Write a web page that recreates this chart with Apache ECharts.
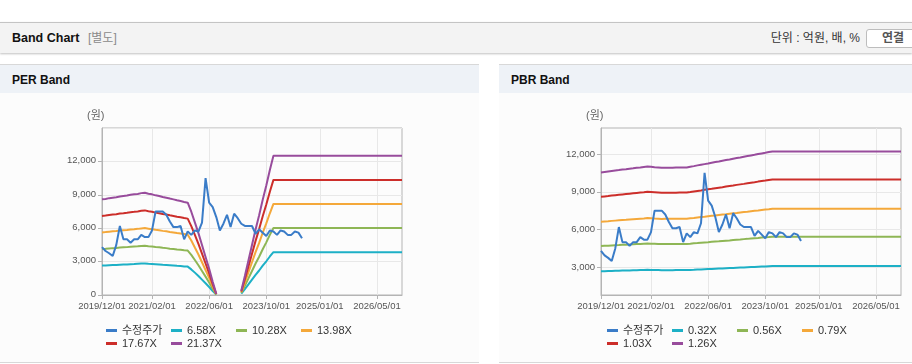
<!DOCTYPE html>
<html><head><meta charset="utf-8">
<script src="https://cdn.jsdelivr.net/npm/echarts@6/dist/echarts.min.js"></script>
<style>
html,body{margin:0;padding:0;background:#fff;width:912px;height:364px;overflow:hidden;font-family:"Liberation Sans","Noto Sans CJK KR",sans-serif;}
.abs{position:absolute;}
#top{left:0;top:22px;width:912px;height:30px;background:#f3f3f3;border-top:1px solid #c4c4c4;box-shadow:0 1px 2px rgba(0,0,0,0.25);}
#top .t{left:12px;top:0;line-height:30px;font-size:12.5px;font-weight:bold;color:#111;}
#top .s{left:88px;top:0;line-height:30px;font-size:12px;color:#8a8a8a;}
#top .u{right:52px;top:0;line-height:30px;font-size:12px;color:#333;}
#top .b{left:866px;top:6px;width:52px;height:17px;border:1px solid #bdbdbd;border-radius:3px;background:#fff;text-align:center;line-height:17px;font-size:12px;font-weight:bold;color:#555;}
.panel{top:64px;height:297px;border-top:1px solid #d8d8d8;border-bottom:1px solid #d8d8d8;background:#fcfcfc;}
.panel .h{left:0;top:0;right:0;height:28px;background:#eef2f7;}
.panel .h span{position:absolute;left:12px;top:0;line-height:30px;font-size:12px;font-weight:bold;color:#111;}
.chart{top:93px;height:268px;}
</style></head>
<body>
<div id="top" class="abs">
  <div class="abs t">Band Chart</div>
  <div class="abs s">[별도]</div>
  <div class="abs u">단위 : 억원, 배, %</div>
  <div class="abs b">연결</div>
</div>
<div class="abs panel" style="left:0;width:479px;"><div class="abs h"><span>PER Band</span></div></div>
<div class="abs panel" style="left:499px;width:413px;"><div class="abs h"><span>PBR Band</span></div></div>
<div id="per" class="abs chart" style="left:0;width:479px;"></div>
<div id="pbr" class="abs chart" style="left:499px;width:413px;"></div>
<script>
// ---- categories (monthly, 2019/12/01 .. 2026/12/01) ----
const months = ['2019/12/01'];
for (let y = 2020; y <= 2026; y++) for (let m = 1; m <= 12; m++) months.push(y + '/' + (m < 10 ? '0' + m : m) + '/01');
const xLabels = ['2019/12/01','2021/02/01','2022/06/01','2023/10/01','2025/01/01','2026/05/01'];
const yTicksPER = [0, 3000, 6000, 9000, 12000];
const yTicksPBR = [3000, 6000, 9000, 12000];

// ---- adjusted price (수정주가) ----
const price = [4300,3950,3750,3500,4500,6200,5000,5000,4700,5000,5000,5400,5200,5200,5800,7500,7500,7500,7200,6600,
  6100,6100,6200,5000,5700,5400,5800,5700,6500,10500,8300,7900,7000,5800,6400,7200,6100,7300,6900,6400,
  6200,6200,6200,5500,5900,5600,5300,5800,5700,5400,5800,5700,5400,5400,5700,5600,5100];

// ---- PER band ----
const perNames = ['6.58X','10.28X','13.98X','17.67X','21.37X'];
const per658 = [2650,2660,2680,2690,2700,2720,2740,2750,2770,2780,2800,2820,2830,2800,2780,2760,2740,2710,2690,2670,2650,2620,2600,2570,2550,
  2300,2010,1710,1380,1050,720,360,30, null,null,null,null,null,null,
  120,530,950,1380,1810,2200,2630,3030,3460,3850,
  3850,3850,3850,3850,3850,3850,3850,3850,3850,3850,3850,3850,3850,3850,3850,3850,3850,3850,
  3850,3850,3850,3850,3850,3850,3850,3850,3850,3850,3850,3850,3850,3850,3850,3850,3850,3850];
const per1028 = [4130,4150,4180,4210,4230,4260,4280,4300,4330,4350,4370,4400,4420,4380,4350,4310,4280,4240,4210,4160,4130,4090,4060,4020,3990,
  3600,3140,2670,2160,1650,1130,570,50, null,null,null,null,null,null,
  190,820,1490,2160,2830,3440,4110,4730,5400,6010,
  6010,6010,6010,6010,6010,6010,6010,6010,6010,6010,6010,6010,6010,6010,6010,6010,6010,6010,
  6010,6010,6010,6010,6010,6010,6010,6010,6010,6010,6010,6010,6010,6010,6010,6010,6010,6010];
const per1398 = [5620,5650,5690,5720,5750,5790,5820,5840,5890,5910,5940,5980,6010,5960,5910,5860,5820,5760,5720,5660,5620,5560,5520,5470,5420,
  4890,4260,3640,2940,2240,1540,770,70, null,null,null,null,null,null,
  250,1120,2030,2940,3850,4680,5590,6430,7340,8180,
  8180,8180,8180,8180,8180,8180,8180,8180,8180,8180,8180,8180,8180,8180,8180,8180,8180,8180,
  8180,8180,8180,8180,8180,8180,8180,8180,8180,8180,8180,8180,8180,8180,8180,8180,8180,8180];
const per1767 = [7100,7140,7190,7230,7260,7320,7350,7390,7440,7470,7510,7560,7600,7530,7470,7400,7350,7280,7230,7160,7100,7030,6980,6910,6860,
  6190,5390,4590,3710,2830,1940,970,90, null,null,null,null,null,null,
  320,1410,2560,3710,4860,5920,7070,8130,9280,10340,
  10340,10340,10340,10340,10340,10340,10340,10340,10340,10340,10340,10340,10340,10340,10340,10340,10340,10340,
  10340,10340,10340,10340,10340,10340,10340,10340,10340,10340,10340,10340,10340,10340,10340,10340,10340,10340];
const per2137 = [8590,8630,8700,8740,8780,8850,8890,8930,9000,9040,9080,9150,9190,9100,9040,8950,8890,8800,8740,8660,8590,8510,8440,8360,8290,
  7480,6520,5560,4490,3420,2350,1180,110, null,null,null,null,null,null,
  390,1710,3100,4490,5880,7160,8550,9830,11220,12500,
  12500,12500,12500,12500,12500,12500,12500,12500,12500,12500,12500,12500,12500,12500,12500,12500,12500,12500,
  12500,12500,12500,12500,12500,12500,12500,12500,12500,12500,12500,12500,12500,12500,12500,12500,12500,12500];

// ---- PBR band ----
const pbrNames = ['0.32X','0.56X','0.79X','1.03X','1.26X'];
const pbr032 = [2680,2690,2700,2710,2720,2730,2740,2740,2750,2760,2770,2780,2790,2800,2790,2780,2780,2770,2770,2770,2770,2780,2780,2780,2780,
  2790,2800,2820,2830,2850,2860,2870,2890,2900,2910,2930,2940,2950,2970,2980,2990,3010,3020,3030,3050,3060,3070,3090,3100,
  3100,3100,3100,3100,3100,3100,3100,3100,3100,3100,3100,3100,3100,3100,3100,3100,3100,3100,
  3100,3100,3100,3100,3100,3100,3100,3100,3100,3100,3100,3100,3100,3100,3100,3100,3100,3100];
const pbr056 = [4690,4710,4720,4740,4760,4770,4790,4800,4820,4830,4850,4860,4880,4890,4880,4870,4860,4850,4850,4850,4860,4860,4860,4860,4860,
  4880,4910,4930,4960,4980,5000,5030,5050,5070,5100,5120,5140,5170,5190,5210,5240,5260,5290,5310,5330,5360,5380,5400,5430,
  5430,5430,5430,5430,5430,5430,5430,5430,5430,5430,5430,5430,5430,5430,5430,5430,5430,5430,
  5430,5430,5430,5430,5430,5430,5430,5430,5430,5430,5430,5430,5430,5430,5430,5430,5430,5430];
const pbr079 = [6620,6640,6660,6690,6710,6730,6750,6770,6800,6820,6840,6860,6880,6910,6890,6870,6860,6840,6850,6850,6850,6850,6850,6860,6860,
  6890,6920,6960,6990,7020,7060,7090,7120,7160,7190,7220,7260,7290,7320,7360,7390,7420,7460,7490,7520,7560,7590,7620,7660,
  7660,7660,7660,7660,7660,7660,7660,7660,7660,7660,7660,7660,7660,7660,7660,7660,7660,7660,
  7660,7660,7660,7660,7660,7660,7660,7660,7660,7660,7660,7660,7660,7660,7660,7660,7660,7660];
const pbr103 = [8600,8630,8660,8700,8730,8760,8790,8820,8850,8880,8910,8940,8960,9000,8980,8960,8940,8920,8930,8930,8930,8930,8940,8940,8940,
  8980,9030,9070,9110,9160,9200,9240,9290,9330,9370,9420,9460,9500,9550,9590,9630,9680,9720,9760,9810,9850,9890,9940,9980,
  9980,9980,9980,9980,9980,9980,9980,9980,9980,9980,9980,9980,9980,9980,9980,9980,9980,9980,
  9980,9980,9980,9980,9980,9980,9980,9980,9980,9980,9980,9980,9980,9980,9980,9980,9980,9980];
const pbr126 = [10540,10580,10620,10660,10700,10730,10770,10800,10840,10870,10910,10940,10980,11010,10990,10960,10940,10910,10920,10920,10920,10930,10930,10930,10940,
  10990,11040,11100,11150,11200,11250,11310,11360,11410,11470,11520,11570,11630,11680,11730,11790,11840,11890,11940,12000,12050,12100,12160,12210,
  12210,12210,12210,12210,12210,12210,12210,12210,12210,12210,12210,12210,12210,12210,12210,12210,12210,12210,
  12210,12210,12210,12210,12210,12210,12210,12210,12210,12210,12210,12210,12210,12210,12210,12210,12210,12210];

const colors = ['#3a7cc8', '#1db0c6', '#8eb655', '#f4a83a', '#cc2e2a', '#984c9c'];
const FONT = '"Liberation Sans","Noto Sans CJK KR",sans-serif';

function build(el, names, bands, yAxisOpt, legendLeft) {
  const chart = echarts.init(el, null, {renderer: 'canvas'});
  const showIdx = (i) => xLabels.indexOf(months[i]) >= 0;
  const allNames = ['수정주가'].concat(names);
  const series = [{name: '수정주가', type: 'line', data: price, z: 4}].concat(
    bands.map((d, k) => ({name: names[k], type: 'line', data: d, z: 3}))
  ).map((s, k) => Object.assign(s, {
    symbol: 'none', connectNulls: false, color: colors[k],
    lineStyle: {width: 2, color: colors[k]}
  }));
  const legendCommon = {
    left: legendLeft, orient: 'horizontal', padding: 0, itemGap: 5,
    icon: 'rect', itemWidth: 11, itemHeight: 3,
    textStyle: {fontFamily: FONT, fontSize: 11, color: '#333', width: 44, lineHeight: 13, overflow: 'none'}
  };
  chart.setOption({
    animation: false,
    textStyle: {fontFamily: FONT},
    grid: {left: 102, top: 35, width: 300, height: 167, show: true, borderColor: '#b4b4b4', borderWidth: 1, backgroundColor: 'transparent'},
    graphic: [{type: 'text', left: 87, top: 17, style: {text: '(원)', fill: '#666', fontSize: 11, fontFamily: FONT}}],
    legend: [
      Object.assign({top: 231, data: allNames.slice(0, 4)}, legendCommon),
      Object.assign({top: 244, data: allNames.slice(4)}, legendCommon)
    ],
    xAxis: {
      type: 'category', data: months, boundaryGap: false,
      axisLine: {lineStyle: {color: '#b4b4b4'}},
      axisTick: {interval: showIdx, length: 4, lineStyle: {color: '#b4b4b4'}},
      axisLabel: {interval: showIdx, color: '#555', fontSize: 9.5, margin: 7, fontFamily: FONT, hideOverlap: false},
      splitLine: {show: true, interval: showIdx, lineStyle: {color: '#e8e8e8'}}
    },
    yAxis: Object.assign({
      type: 'value',
      axisLine: {show: true, lineStyle: {color: '#b4b4b4'}},
      splitLine: {show: true, lineStyle: {color: '#e8e8e8'}}
    }, yAxisOpt),
    series: series
  });
}

build(document.getElementById('per'), perNames, [per658, per1028, per1398, per1767, per2137], {
  min: 0, max: 15000, interval: 3000,
  axisTick: {show: true, length: 4, lineStyle: {color: '#b4b4b4'}},
  axisLabel: {color: '#555', fontSize: 9.5, margin: 6, fontFamily: FONT, showMinLabel: true, showMaxLabel: false, hideOverlap: false, verticalAlign: 'bottom', padding: [0, 0, -4, 0]}
}, 106);

build(document.getElementById('pbr'), pbrNames, [pbr032, pbr056, pbr079, pbr103, pbr126], {
  min: 800, max: 14070,
  axisTick: {show: true, length: 4, lineStyle: {color: '#b4b4b4'}, customValues: yTicksPBR},
  axisLabel: {color: '#555', fontSize: 9.5, margin: 6, fontFamily: FONT, customValues: yTicksPBR}
}, 108);
</script>
</body></html>
